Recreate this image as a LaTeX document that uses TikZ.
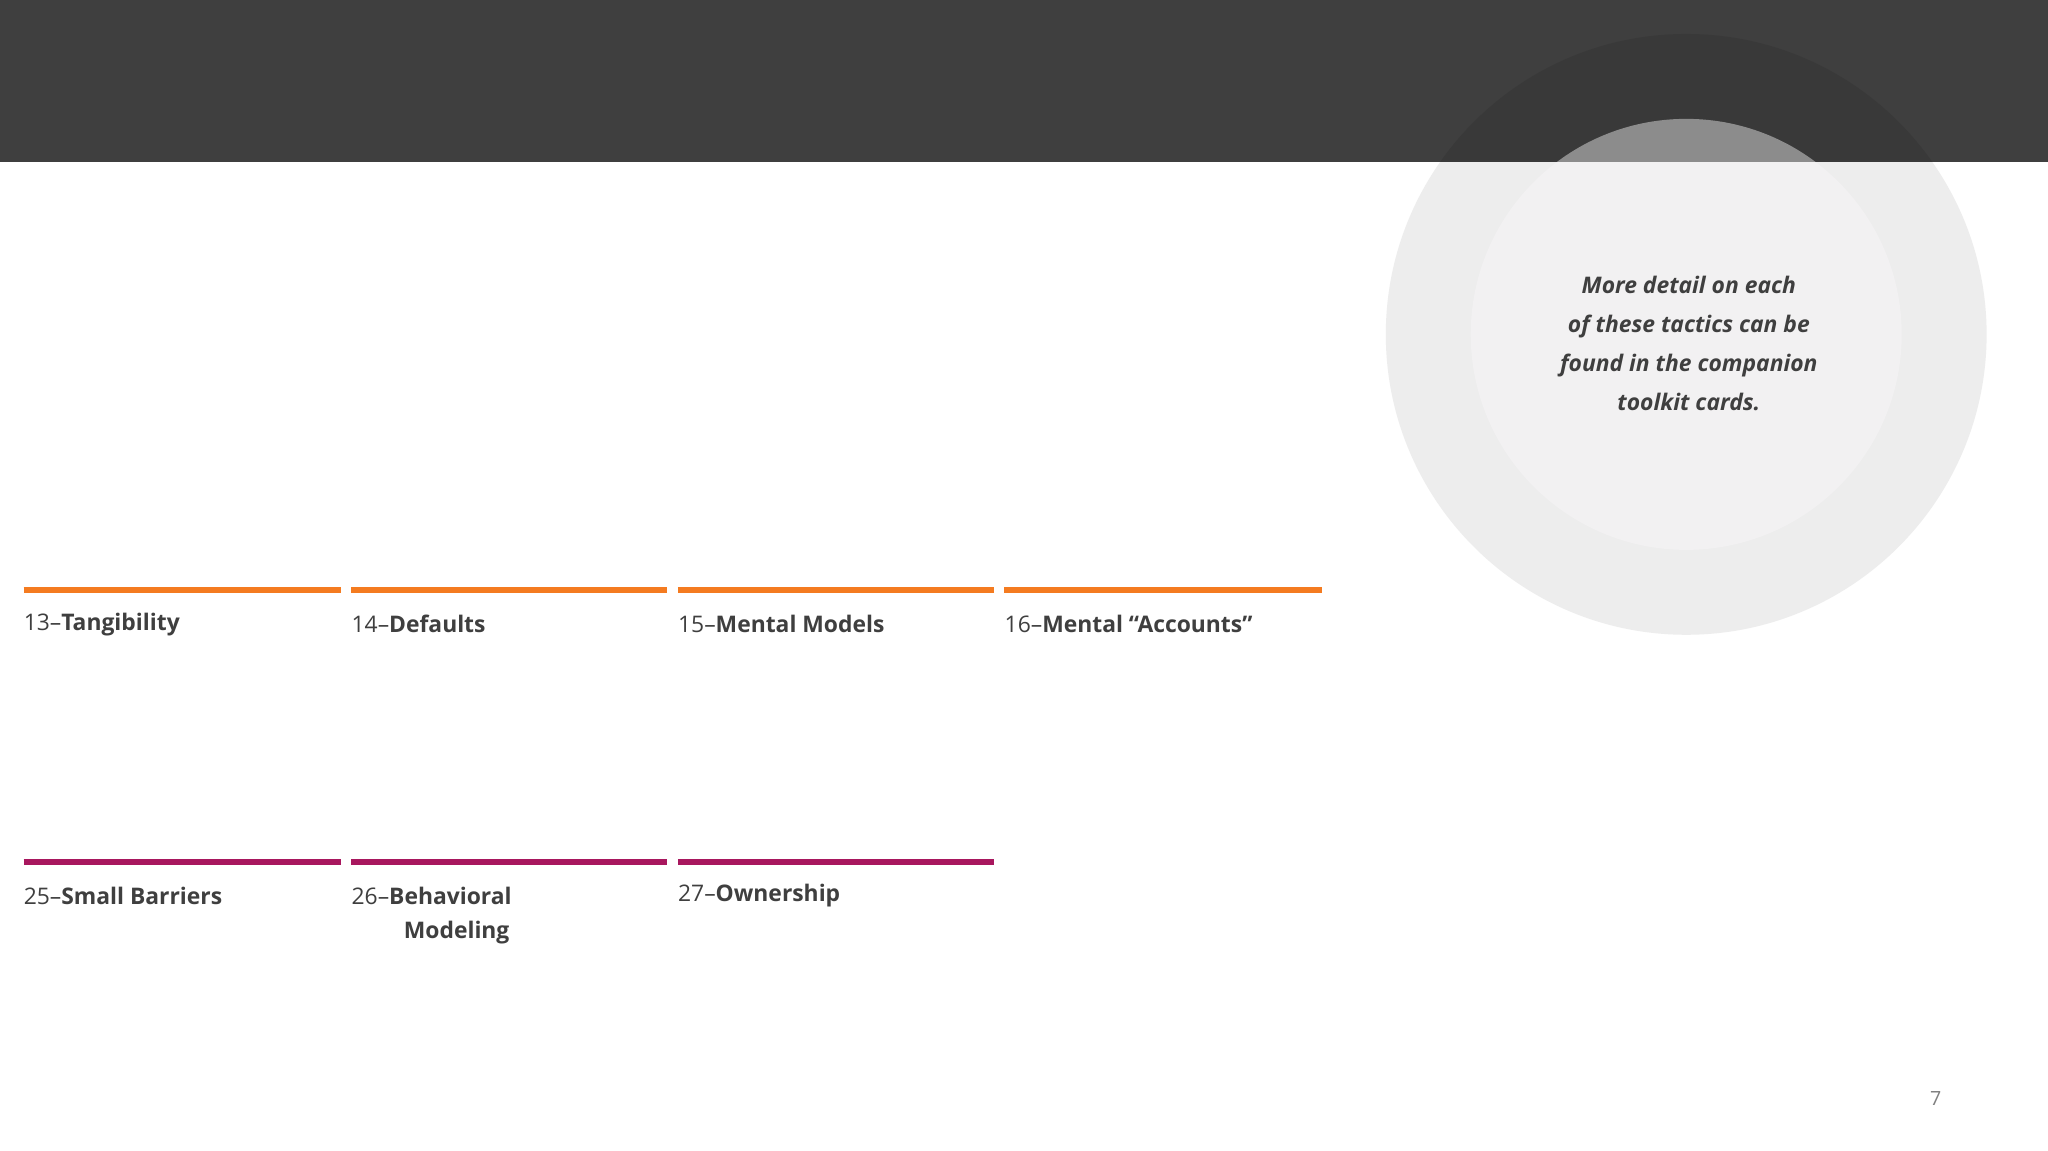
\documentclass[tikz,border=0pt]{standalone}
\usepackage{fontspec}
\setmainfont{Open Sans}
\definecolor{band}{HTML}{3F3F3F}
\definecolor{txt}{HTML}{3F3F3F}
\definecolor{org}{HTML}{F47B20}
\definecolor{pur}{HTML}{A8175E}
\definecolor{outerc}{HTML}{EDEDED}
\definecolor{innerc}{HTML}{F2F1F2}
\definecolor{outerd}{HTML}{393939}
\definecolor{innerd}{HTML}{8C8C8C}
\begin{document}
\begin{tikzpicture}[x=1pt,y=-1pt,
  lbl/.style={anchor=west,text=txt,font=\fontsize{17.5}{21}\selectfont,inner sep=0pt},
  bar/.style={line width=4.5pt}]
\useasboundingbox (0,0) rectangle (1568,881);
\fill[white] (0,0) rectangle (1568,881);
\fill[outerc] (1291,256) circle (230);
\fill[innerc] (1291,256) circle (165);
\begin{scope}
\clip (0,0) rectangle (1568,124);
\fill[band] (0,0) rectangle (1568,124);
\fill[outerd] (1291,256) circle (230);
\fill[innerd] (1291,256) circle (165);
\end{scope}
\node[align=center,text=txt,font=\fontsize{17.5}{29.7}\selectfont\itshape\bfseries] (note) at (1293,263)
 {More detail on each\\of these tactics can be\\found in the companion\\toolkit cards.};
\draw[bar,org] (18,452) -- (261,452);
\draw[bar,org] (269,452) -- (511,452);
\draw[bar,org] (519,452) -- (761,452);
\draw[bar,org] (769,452) -- (1012,452);
\draw[bar,pur] (18,660) -- (261,660);
\draw[bar,pur] (269,660) -- (511,660);
\draw[bar,pur] (519,660) -- (761,660);
\node[lbl] (t13) at (18,478) {13–\textbf{Tangibility}};
\node[lbl] (t14) at (269,478) {14–\textbf{Defaults}};
\node[lbl] (t15) at (519,478) {15–\textbf{Mental Models}};
\node[lbl] (t16) at (769,478) {16–\textbf{Mental “Accounts”}};
\node[lbl] (t25) at (18,686) {25–\textbf{Small Barriers}};
\node[lbl] (t26) at (269,686) {26–\textbf{Behavioral}};
\node[lbl] (t26b) at (309,714) {\textbf{Modeling}};
\node[lbl] (t27) at (519,686) {27–\textbf{Ownership}};
\node[text=gray,font=\fontsize{15}{18}\selectfont] (pg) at (1482,841) {7};
\end{tikzpicture}
\end{document}
